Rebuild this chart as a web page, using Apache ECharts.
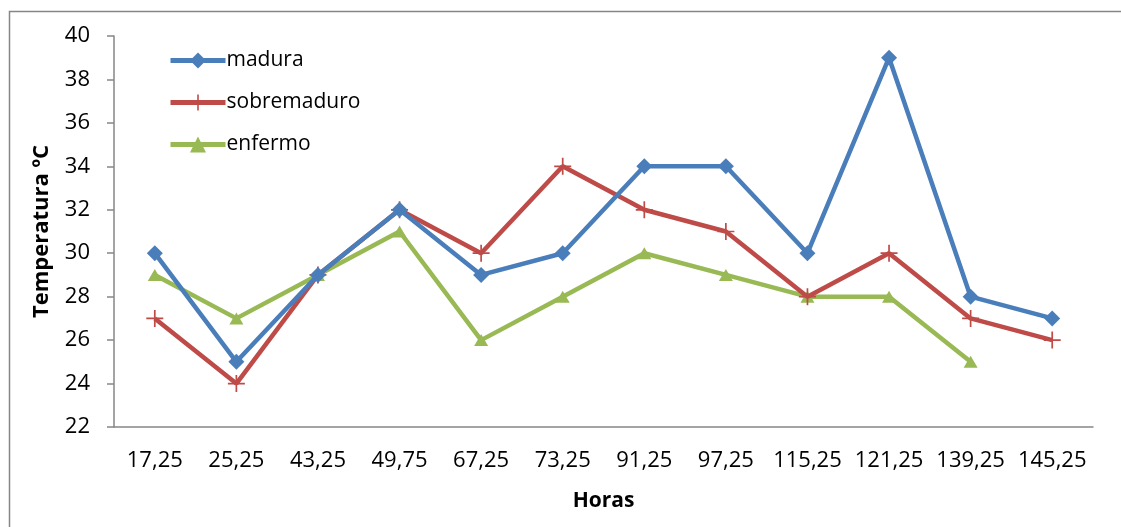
<!DOCTYPE html>
<html>
<head>
<meta charset="utf-8">
<script src="https://cdn.jsdelivr.net/npm/echarts@6/dist/echarts.min.js"></script>
<style>
  html, body { margin: 0; padding: 0; background: #fff; }
  #chart { width: 1121px; height: 527px; }
</style>
</head>
<body>
<div id="chart"></div>
<script>
// Horas de medición
const categories = ['17,25', '25,25', '43,25', '49,75', '67,25', '73,25', '91,25', '97,25', '115,25', '121,25', '139,25', '145,25'];

// Temperatura (ºC) por estado del fruto
const madura      = [30, 25, 29, 32, 29, 30, 34, 34, 30, 39, 28, 27];
const sobremaduro = [27, 24, 29, 32, 30, 34, 32, 31, 28, 30, 27, 26];
const enfermo     = [29, 27, 29, 31, 26, 28, 30, 29, 28, 28, 25, null];

const FONT = '"Open Sans", Lato, sans-serif';
const AXIS_GRAY = '#868686';
const plusPath = 'path://M9,0 L11,0 L11,9 L20,9 L20,11 L11,11 L11,20 L9,20 L9,11 L0,11 L0,9 L9,9 Z';

const chart = echarts.init(document.getElementById('chart'), null, { renderer: 'canvas' });

chart.setOption({
  animation: false,
  backgroundColor: '#fff',
  graphic: [{
    type: 'rect',
    shape: { x: 9.5, y: 11.5, width: 1300, height: 700 },
    style: { fill: 'none', stroke: AXIS_GRAY, lineWidth: 1.5 },
    silent: true
  }],
  grid: { left: 114, right: 28, top: 36, bottom: 100, containLabel: false },
  legend: {
    left: 163,
    top: 45,
    orient: 'vertical',
    itemWidth: 55,
    itemHeight: 20,
    itemGap: 21,
    lineStyle: { width: 5 },
    textStyle: { fontFamily: FONT, fontSize: 21, lineHeight: 20, color: '#000', padding: [0, 0, 0, -4] },
    data: ['madura', 'sobremaduro', 'enfermo']
  },
  xAxis: {
    type: 'category',
    data: categories,
    boundaryGap: true,
    name: 'Horas',
    nameLocation: 'middle',
    nameGap: 64,
    nameTextStyle: { fontFamily: FONT, fontSize: 21, fontWeight: 'bold', color: '#000' },
    axisLine: { lineStyle: { color: AXIS_GRAY, width: 1.5 } },
    axisTick: { show: false },
    axisLabel: { fontFamily: FONT, fontSize: 22, color: '#000', margin: 23, interval: 0, hideOverlap: false },
    splitLine: { show: false }
  },
  yAxis: {
    type: 'value',
    min: 22,
    max: 40,
    interval: 2,
    name: 'Temperatura ºC',
    nameLocation: 'middle',
    nameGap: 61,
    nameRotate: 90,
    nameTextStyle: { fontFamily: FONT, fontSize: 22, fontWeight: 'bold', color: '#000' },
    axisLine: { show: true, lineStyle: { color: AXIS_GRAY, width: 1.5 } },
    axisTick: { show: true, length: 7, lineStyle: { color: AXIS_GRAY, width: 1.5 } },
    axisLabel: { fontFamily: FONT, fontSize: 22, color: '#000', margin: 24 },
    splitLine: { show: false }
  },
  series: [
    {
      name: 'madura',
      type: 'line',
      data: madura,
      symbol: 'diamond',
      symbolSize: [16, 16],
      color: '#4A7EBB',
      lineStyle: { width: 4.5, color: '#4A7EBB' },
      itemStyle: { color: '#4A7EBB' },
      z: 3
    },
    {
      name: 'sobremaduro',
      type: 'line',
      data: sobremaduro,
      symbol: plusPath,
      symbolSize: 17,
      color: '#BE4B48',
      lineStyle: { width: 4.5, color: '#BE4B48' },
      itemStyle: { color: '#BE4B48' },
      z: 2
    },
    {
      name: 'enfermo',
      type: 'line',
      data: enfermo,
      symbol: 'triangle',
      symbolSize: [14, 12],
      color: '#98B954',
      lineStyle: { width: 4.5, color: '#98B954' },
      itemStyle: { color: '#98B954' },
      connectNulls: false,
      z: 1
    }
  ]
});
</script>
</body>
</html>
